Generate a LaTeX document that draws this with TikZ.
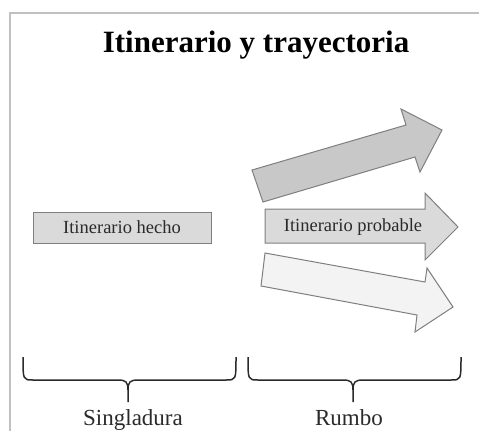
\documentclass[tikz,border=0pt]{standalone}
\usepackage{fontspec}
\setmainfont{Liberation Serif}
\definecolor{frame}{HTML}{C0C0C0}
\definecolor{edge}{HTML}{7F7F7F}
\definecolor{boxfill}{HTML}{DADADA}
\definecolor{darkfill}{HTML}{C8C8C8}
\definecolor{lightfill}{HTML}{F3F3F3}
\definecolor{ink}{HTML}{2A2A2A}
\begin{document}
\begin{tikzpicture}[x=1pt,y=-1pt,
  shapeline/.style={draw=edge,line width=1pt,line join=miter},
  lbl/.style={font=\fontsize{18.5}{20}\selectfont,text=ink,inner sep=0pt},
  bracelbl/.style={font=\fontsize{23}{25}\selectfont,text=ink,inner sep=0pt,anchor=base},
  bracket/.style={draw=ink,line width=1.5pt}]
\useasboundingbox (0,0) rectangle (479,431);
% frame
\draw[frame,line width=2pt] (9.5,431) -- (9.5,13) -- (479,13);
% title
\node[font=\fontsize{31}{33}\selectfont\bfseries,anchor=base,inner sep=0pt] (title) at (256,52) {Itinerario y trayectoria};
% left box
\node[shapeline,fill=boxfill,minimum width=178pt,minimum height=31pt,inner sep=0pt,lbl] (hecho) at (122,227.5) {Itinerario hecho};
% top arrow
\draw[shapeline,fill=darkfill] (252,170) -- (406,125) -- (401,109) -- (442,130) -- (420,172) -- (415,157) -- (263,202) -- cycle;
% middle arrow
\draw[shapeline,fill=boxfill] (265,209) -- (425,209) -- (425,193) -- (458,227) -- (425,260) -- (425,243) -- (265,243) -- cycle;
\node[lbl] (probable) at (353,227) {Itinerario probable};
% bottom arrow
\draw[shapeline,fill=lightfill] (265,253) -- (425,282) -- (427,268) -- (453,307) -- (415,332) -- (417,315) -- (261,286) -- cycle;
% braces
\coordinate (la) at (23,357);
\coordinate (lb) at (236,357);
\coordinate (lt) at (128,402);
\coordinate (ra) at (248,357);
\coordinate (rb) at (461,357);
\coordinate (rt) at (353,402);
\draw[bracket] (la) .. controls (23,380) and (23,380) .. (33,380) -- (118,380) .. controls (126,380) and (128,382) .. (128,390) -- (lt);
\draw[bracket] (128,390) .. controls (128,382) and (130,380) .. (138,380) -- (226,380) .. controls (236,380) and (236,380) .. (lb);
\draw[bracket] (ra) .. controls (248,380) and (248,380) .. (258,380) -- (343,380) .. controls (351,380) and (353,382) .. (353,390) -- (rt);
\draw[bracket] (353,390) .. controls (353,382) and (355,380) .. (363,380) -- (451,380) .. controls (461,380) and (461,380) .. (rb);
\node[bracelbl] (sing) at (133,425) {Singladura};
\node[bracelbl] (rumbo) at (349,425) {Rumbo};
\end{tikzpicture}
\end{document}
